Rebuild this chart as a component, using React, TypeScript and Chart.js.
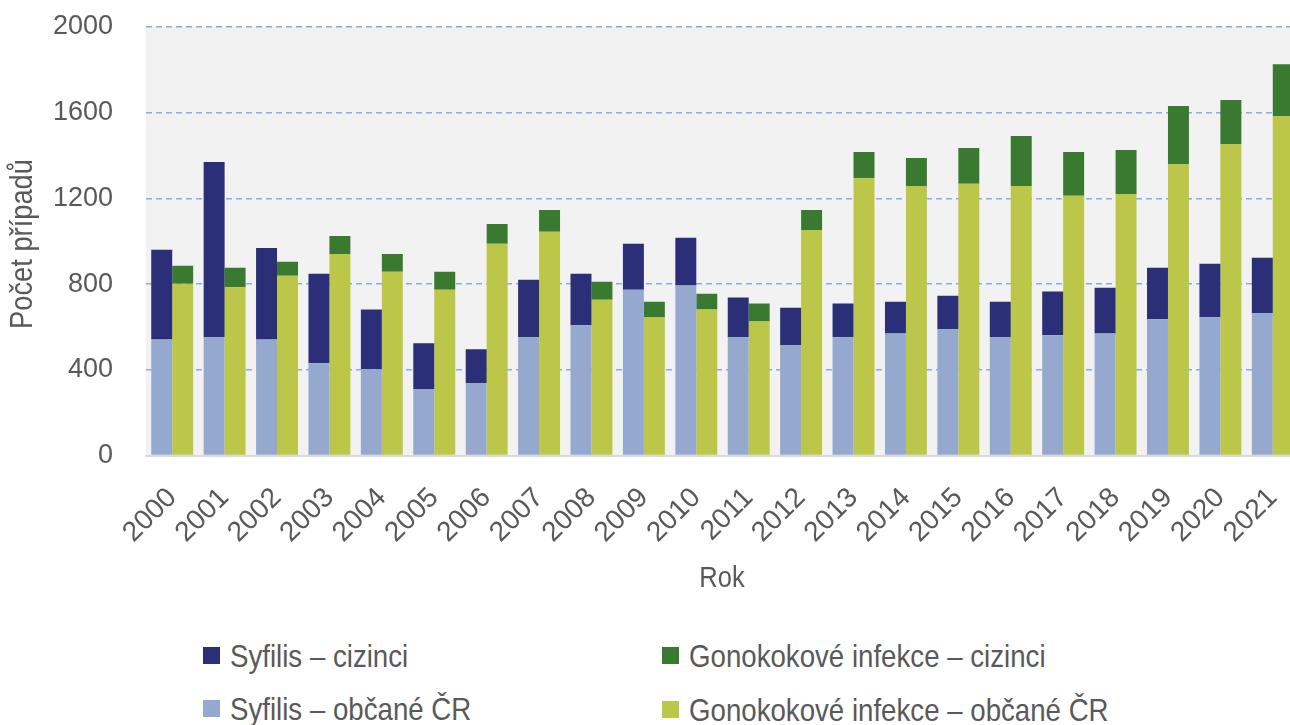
import React, { useEffect, useRef } from "react";
import { Chart, registerables } from "chart.js";

Chart.register(...registerables);

const years = ["2000","2001","2002","2003","2004","2005","2006","2007","2008","2009","2010","2011","2012","2013","2014","2015","2016","2017","2018","2019","2020","2021"];
const syfilisCR = [542,552,542,431,403,310,338,552,608,774,793,552,515,552,570,589,552,561,570,636,645,664];
const syfilisForeign = [418,818,427,417,278,214,158,268,240,214,223,185,175,157,148,157,166,204,213,240,250,259];
const gonoCR = [802,785,839,941,858,774,988,1044,727,644,681,625,1053,1294,1258,1268,1258,1212,1221,1361,1454,1585];
const gonoForeign = [84,91,65,84,83,84,93,102,84,74,74,84,93,123,131,167,233,205,205,270,205,241];
const yMin = 0;
const yMax = 2000;
const yStep = 400;

const labelSyfForeign = "Syfilis – cizinci";
const labelSyfCR = "Syfilis – občané ČR";
const labelGonoForeign = "Gonokokové infekce – cizinci";
const labelGonoCR = "Gonokokové infekce – občané ČR";
const xTitle = "Rok";
const yTitle = "Počet případů";

const C_NAVY = "#2B2F78";
const C_LIGHTBLUE = "#95A9CF";
const C_DKGREEN = "#3A7A30";
const C_YELLOW = "#BCC749";
const TEXT = "#595959";
const FONT = "'Liberation Sans', Arial, sans-serif";

const bgPlugin = {
  id: "plotBg",
  beforeDraw(chart: any) {
    const { ctx, chartArea } = chart;
    if (!chartArea) return;
    ctx.save();
    ctx.fillStyle = "#F2F2F2";
    ctx.fillRect(chartArea.left, chartArea.top, chartArea.right - chartArea.left, chartArea.bottom - chartArea.top);
    ctx.restore();
  },
};

// condensed axis titles (narrow look obtained by horizontal scaling)
const titlePlugin = {
  id: "narrowTitles",
  afterDraw(chart: any) {
    const { ctx, chartArea } = chart;
    if (!chartArea) return;
    ctx.save();
    ctx.fillStyle = TEXT;
    ctx.textAlign = "center";
    ctx.textBaseline = "alphabetic";
    ctx.save();
    ctx.font = `30px ${FONT}`;
    ctx.translate(722, 587);
    ctx.scale(0.85, 1);
    ctx.fillText(xTitle, 0, 0);
    ctx.restore();
    ctx.save();
    ctx.font = `31px ${FONT}`;
    ctx.translate(32, 244);
    ctx.rotate(-Math.PI / 2);
    ctx.scale(0.88, 1);
    ctx.fillText(yTitle, 0, 0);
    ctx.restore();
    ctx.restore();
  },
};

function LegendItem(props: { left: number; top: number; color: string; text: string }) {
  const { left, top, color, text } = props;
  return (
    <>
      <div style={{ position: "absolute", left, top, width: 17, height: 17, background: color }} />
      <div
        style={{
          position: "absolute",
          left: left + 27,
          top: top + 8.5 - 16,
          height: 32,
          lineHeight: "32px",
          fontSize: 32,
          fontFamily: FONT,
          color: TEXT,
          whiteSpace: "nowrap",
          transform: "scaleX(0.864)",
          transformOrigin: "0 50%",
        }}
      >
        {text}
      </div>
    </>
  );
}

export default function App() {
  const canvasRef = useRef<HTMLCanvasElement | null>(null);

  useEffect(() => {
    if (!canvasRef.current) return;
    const chart = new Chart(canvasRef.current, {
      type: "bar",
      data: {
        labels: years,
        datasets: [
          { label: labelSyfCR, data: syfilisCR, backgroundColor: C_LIGHTBLUE, stack: "syf" },
          { label: labelSyfForeign, data: syfilisForeign, backgroundColor: C_NAVY, stack: "syf" },
          { label: labelGonoCR, data: gonoCR, backgroundColor: C_YELLOW, stack: "gono" },
          { label: labelGonoForeign, data: gonoForeign, backgroundColor: C_DKGREEN, stack: "gono" },
        ],
      },
      options: {
        responsive: false,
        animation: false,
        layout: { padding: { left: 0, right: 1, top: 27, bottom: 0 } },
        datasets: { bar: { categoryPercentage: 0.8, barPercentage: 1.0 } },
        plugins: { legend: { display: false }, tooltip: { enabled: false } },
        scales: {
          x: {
            stacked: true,
            grid: { display: false },
            border: { display: true, color: "#D9D9D9", width: 2 },
            ticks: {
              color: TEXT,
              font: { family: FONT, size: 28 },
              minRotation: 45,
              maxRotation: 45,
              padding: 18,
              autoSkip: false,
            },
            title: { display: false },
            afterFit(scale: any) {
              scale.height = 144.5;
              scale.paddingTop = 0;
              scale.paddingBottom = 0;
              scale.paddingLeft = 0;
              scale.paddingRight = 0;
            },
          },
          y: {
            stacked: true,
            min: yMin,
            max: yMax,
            border: { display: false, dash: [6, 4] },
            grid: {
              color: (ctx: any) => (ctx.tick && ctx.tick.value === 0 ? "rgba(0,0,0,0)" : "#8EA9DB"),
              lineWidth: 1.5,
              drawTicks: false,
            },
            ticks: {
              stepSize: yStep,
              color: TEXT,
              font: { family: FONT, size: 27 },
              padding: 33,
              callback: (v: any) => String(v),
            },
            title: { display: false },
            afterFit(scale: any) {
              scale.width = 146;
              scale.paddingTop = 0;
              scale.paddingBottom = 0;
            },
          },
        },
      } as any,
      plugins: [bgPlugin, titlePlugin],
    });
    return () => chart.destroy();
  }, []);

  return (
    <div style={{ position: "absolute", left: 0, top: 0, width: 1290, height: 725, overflow: "hidden", background: "#fff" }}>
      <canvas ref={canvasRef} width={1300} height={600} style={{ display: "block", position: "absolute", left: 0, top: 0 }} />
      <LegendItem left={203} top={647} color={C_NAVY} text={labelSyfForeign} />
      <LegendItem left={203} top={700} color={C_LIGHTBLUE} text={labelSyfCR} />
      <LegendItem left={662} top={647} color={C_DKGREEN} text={labelGonoForeign} />
      <LegendItem left={662} top={701} color={C_YELLOW} text={labelGonoCR} />
    </div>
  );
}
